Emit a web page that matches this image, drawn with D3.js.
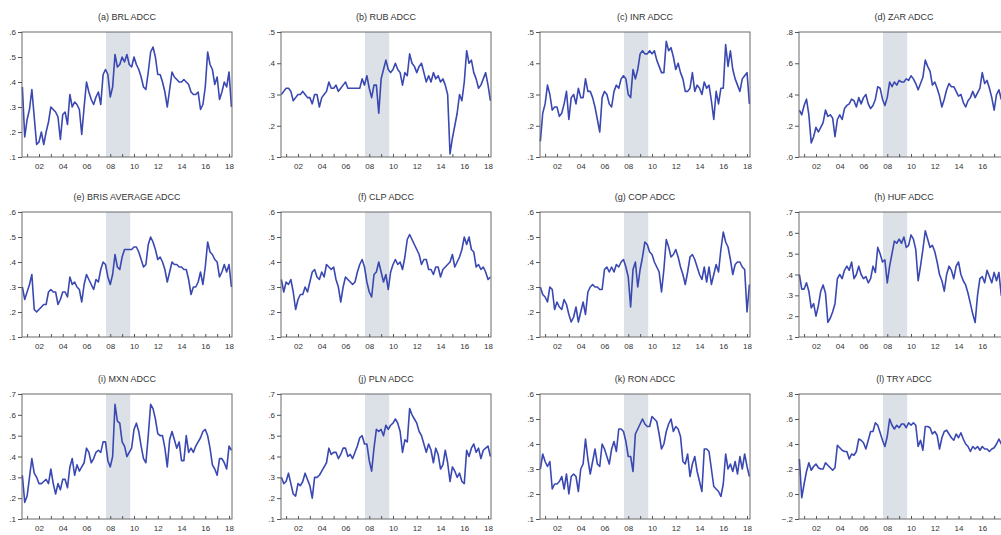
<!DOCTYPE html>
<html>
<head>
<meta charset="utf-8">
<script src="https://cdn.jsdelivr.net/npm/d3@7"></script>
<style>
  body { margin: 0; background: #fff; }
  svg { display: block; }
  text { font-family: Arial, "Liberation Sans", sans-serif; fill: #333; }
</style>
</head>
<body>
<svg width="1001" height="535"></svg>
<script>
// observation dates: every 0.2 year from 2000.6 to 2018.2
var startYear = 2000.6, stepYear = 0.2;

var brl = [.38,.18,
  .25,.29,.37,.26,.15, .16,.20,.15,.20,.24, .30,.29,.28,.26,.17, .27,.28,.23,.35,.30,
  .32,.31,.29,.19,.30, .40,.36,.33,.31,.34, .36,.31,.43,.45,.43, .34,.38,.51,.46,.47,
  .50,.48,.51,.47,.46, .50,.47,.45,.42,.38, .37,.44,.52,.54,.50, .43,.43,.40,.36,.30,
  .37,.44,.42,.41,.40, .40,.41,.40,.39,.36, .35,.35,.36,.29,.31, .38,.52,.47,.45,.39,
  .42,.33,.36,.40,.38, .44,.30];
var rub = [.30,.31,
  .32,.32,.31,.28,.29, .30,.30,.31,.30,.29, .29,.27,.30,.30,.26, .29,.30,.31,.34,.32,
  .32,.33,.31,.32,.33, .34,.32,.32,.32,.32, .32,.32,.35,.33,.36, .32,.29,.33,.33,.24,
  .35,.38,.41,.38,.37, .38,.40,.38,.37,.33, .37,.36,.43,.40,.39, .37,.39,.40,.37,.34,
  .36,.34,.37,.35,.36, .34,.35,.33,.30,.11, .16,.20,.24,.30,.28, .34,.44,.40,.41,.37,
  .35,.32,.33,.35,.37, .33,.28];
var inr = [.15,.24,
  .27,.33,.30,.25,.26, .26,.23,.24,.27,.31, .22,.29,.30,.27,.32, .29,.29,.35,.31,.31,
  .29,.26,.22,.18,.29, .31,.30,.27,.26,.31, .33,.32,.35,.36,.35, .30,.29,.38,.35,.38,
  .43,.44,.43,.43,.44, .43,.44,.41,.39,.37, .37,.47,.44,.45,.42, .38,.40,.37,.35,.31,
  .31,.32,.37,.31,.33, .32,.30,.34,.32,.33, .28,.22,.31,.27,.32, .32,.46,.39,.44,.38,
  .35,.33,.31,.35,.36, .37,.27];
var zar = [.30,.27,
  .33,.37,.27,.09,.13, .19,.16,.19,.22,.30, .26,.27,.25,.13,.24, .27,.24,.31,.33,.34,
  .37,.36,.32,.38,.34, .38,.40,.34,.31,.33, .37,.45,.44,.37,.33, .38,.48,.45,.48,.46,
  .49,.48,.48,.50,.49, .52,.50,.47,.43,.47, .51,.62,.58,.55,.46, .48,.44,.39,.32,.37,
  .43,.47,.45,.45,.42, .39,.40,.35,.32,.36, .38,.42,.38,.41,.44, .54,.47,.49,.44,.38,
  .30,.40,.43,.37,.40, .42,.38];
var bris = [.30,.25,
  .28,.31,.35,.21,.20, .21,.22,.23,.23,.28, .29,.28,.28,.23,.25, .28,.28,.26,.34,.31,
  .32,.30,.29,.24,.31, .35,.33,.31,.29,.33, .32,.37,.40,.39,.34, .31,.35,.43,.38,.37,
  .42,.45,.45,.45,.45, .46,.46,.44,.41,.38, .39,.47,.50,.48,.45, .41,.42,.40,.37,.32,
  .36,.40,.39,.39,.38, .38,.37,.37,.33,.27, .30,.30,.32,.36,.31, .38,.48,.44,.43,.41,
  .40,.34,.36,.39,.36, .39,.30];
var clp = [.33,.28,
  .32,.31,.33,.28,.21, .25,.27,.27,.30,.28, .32,.36,.37,.34,.33, .36,.34,.39,.38,.37,
  .38,.33,.30,.24,.30, .34,.33,.32,.31,.32, .36,.39,.41,.38,.32, .28,.26,.35,.36,.40,
  .36,.32,.35,.29,.36, .39,.41,.39,.40,.37, .42,.49,.51,.49,.47, .45,.43,.39,.41,.41,
  .37,.37,.35,.38,.38, .34,.37,.38,.39,.40, .43,.38,.40,.42,.45, .50,.47,.50,.45,.44,
  .38,.39,.37,.38,.36, .33,.34];
var cop = [.30,.27,
  .26,.24,.30,.29,.21, .24,.22,.21,.25,.23, .19,.16,.18,.22,.16, .20,.24,.19,.28,.30,
  .31,.30,.30,.29,.29, .37,.38,.36,.38,.36, .39,.38,.40,.41,.38, .34,.22,.37,.40,.30,
  .37,.42,.48,.47,.44, .43,.40,.38,.36,.28, .37,.49,.46,.42,.43, .45,.42,.38,.35,.31,
  .36,.42,.43,.41,.38, .35,.33,.38,.32,.38, .31,.35,.39,.36,.45, .52,.48,.46,.41,.35,
  .39,.40,.40,.38,.37, .20,.31];
var huf = [.40,.33,
  .33,.36,.32,.24,.26, .20,.25,.32,.35,.31, .17,.19,.22,.26,.38, .40,.38,.42,.44,.42,
  .46,.38,.40,.44,.40, .38,.39,.36,.38,.44, .41,.53,.50,.46,.47, .36,.44,.50,.56,.55,
  .57,.55,.58,.53,.54, .59,.57,.52,.37,.44, .52,.61,.57,.53,.54, .51,.46,.40,.37,.32,
  .40,.44,.42,.38,.44, .46,.40,.37,.35,.31, .26,.21,.17,.30,.38, .39,.36,.42,.39,.36,
  .41,.37,.41,.30,.36, .40,.35];
var mxn = [.31,.18,
  .21,.30,.39,.32,.30, .27,.27,.28,.29,.27, .34,.27,.22,.27,.24, .29,.29,.25,.35,.39,
  .31,.36,.33,.35,.37, .44,.42,.37,.39,.42, .43,.42,.47,.47,.38, .35,.40,.65,.57,.56,
  .47,.45,.40,.42,.44, .53,.56,.52,.45,.39, .37,.50,.65,.63,.58, .51,.50,.50,.44,.35,
  .48,.52,.48,.44,.47, .38,.38,.50,.42,.44, .42,.45,.47,.49,.52, .53,.50,.44,.36,.34,
  .31,.39,.39,.37,.34, .45,.43];
var pln = [.30,.27,
  .28,.32,.27,.22,.21, .27,.26,.28,.32,.29, .26,.20,.30,.30,.31, .33,.35,.37,.44,.41,
  .42,.42,.39,.41,.44, .44,.40,.41,.39,.42, .45,.49,.50,.46,.46, .38,.33,.44,.53,.52,
  .53,.50,.55,.53,.55, .56,.58,.56,.52,.42, .48,.47,.63,.60,.58, .56,.52,.50,.46,.42,
  .46,.43,.37,.44,.41, .34,.36,.43,.37,.28, .35,.33,.30,.32,.28, .27,.43,.40,.44,.46,
  .42,.44,.39,.43,.44, .45,.40];
var ron = [.30,.36,
  .33,.31,.33,.22,.24, .24,.25,.27,.22,.28, .20,.27,.28,.27,.21, .30,.32,.42,.34,.28,
  .33,.38,.32,.31,.40, .38,.35,.32,.38,.41, .37,.46,.46,.45,.41, .35,.35,.29,.44,.46,
  .48,.50,.48,.47,.47, .51,.50,.49,.44,.38, .40,.45,.48,.50,.45, .47,.46,.43,.33,.32,
  .36,.27,.32,.35,.29, .25,.21,.38,.38,.37, .30,.23,.22,.21,.19, .24,.36,.30,.32,.29,
  .33,.28,.35,.30,.36, .31,.27];
var tryS = [.28,-.03,
  .08,.18,.25,.19,.22, .24,.21,.20,.20,.25, .23,.21,.19,.21,.39, .37,.35,.34,.34,.28,
  .32,.31,.34,.44,.43, .41,.36,.43,.50,.50, .57,.55,.49,.43,.38, .46,.60,.55,.52,.55,
  .53,.56,.56,.53,.57, .55,.57,.55,.38,.43, .35,.54,.54,.53,.48, .50,.47,.36,.45,.50,
  .51,.48,.45,.43,.48, .45,.49,.44,.40,.38, .34,.38,.36,.38,.35, .38,.36,.36,.34,.36,
  .37,.40,.44,.40,.42, .40,.38];

var titles = ["(a) BRL ADCC", "(b) RUB ADCC", "(c) INR ADCC", "(d) ZAR ADCC",
  "(e) BRIS AVERAGE ADCC", "(f) CLP ADCC", "(g) COP ADCC", "(h) HUF ADCC",
  "(i) MXN ADCC", "(j) PLN ADCC", "(k) RON ADCC", "(l) TRY ADCC"];
var seriesList = [brl, rub, inr, zar, bris, clp, cop, huf, mxn, pln, ron, tryS];
var yMins = [.1, .1, .1, 0, .1, .1, .1, .1, .1, .1, .1, -.2];
var yMaxs = [.6, .5, .5, .8, .6, .6, .6, .7, .7, .7, .6, .8];
var ySteps = [.1, .1, .1, .2, .1, .1, .1, .1, .1, .1, .1, .2];

var xDomain = [2000.57, 2018.25];
var crisis = [2007.64, 2009.68];           // shaded period
var tickYears = d3.range(2001, 2019);      // a tick every year
var labelYears = [2002, 2004, 2006, 2008, 2010, 2012, 2014, 2016, 2018];

// layout of the 4 x 3 grid (last column runs past the page edge, as in the source)
var colLefts = [22, 281, 540, 799],
    rowTops = [32, 212, 394],
    pw = 210, ph = 125,
    pageW = 1001;

var svg = d3.select("svg");

var x = d3.scaleLinear().domain(xDomain).range([0, pw]);

var fmtY = function (v) {
  return d3.format(".1f")(v).replace("0.", ".");
};

seriesList.forEach(function (vals, i) {
  var col = i % 4, row = Math.floor(i / 4);
  var left = colLefts[col];
  var g = svg.append("g")
    .attr("transform", "translate(" + left + "," + rowTops[row] + ")");

  var y = d3.scaleLinear().domain([yMins[i], yMaxs[i]]).range([ph, 0]);
  var nT = Math.round((yMaxs[i] - yMins[i]) / ySteps[i]);
  var yTicks = d3.range(nT + 1).map(function (k) { return yMins[i] + k * ySteps[i]; });

  // crisis shading
  g.append("rect")
    .attr("x", x(crisis[0]))
    .attr("y", 0)
    .attr("width", x(crisis[1]) - x(crisis[0]))
    .attr("height", ph)
    .attr("fill", "#dbe1e6");

  var line = d3.line()
    .x(function (d, k) { return x(startYear + k * stepYear); })
    .y(function (d) { return y(d); });

  g.append("path")
    .datum(vals)
    .attr("fill", "none")
    .attr("stroke", "#3a48b2")
    .attr("stroke-width", 1.6)
    .attr("stroke-linejoin", "round")
    .attr("d", line);

  // frame
  g.append("rect")
    .attr("width", pw)
    .attr("height", ph)
    .attr("fill", "none")
    .attr("stroke", "#6a6a6a")
    .attr("stroke-width", 1);

  // y axis
  var ya = g.append("g")
    .call(d3.axisLeft(y).tickValues(yTicks).tickFormat(fmtY).tickSize(4).tickPadding(2));
  ya.select(".domain").remove();
  ya.selectAll("line").attr("stroke", "#555");
  ya.selectAll("text").attr("font-size", 8).attr("fill", "#333")
    .attr("font-family", "Arial, 'Liberation Sans', sans-serif");

  // x axis: labels that would fall off the page are left out, as in the source
  var xa = g.append("g")
    .attr("transform", "translate(0," + ph + ")")
    .call(d3.axisBottom(x).tickValues(tickYears)
      .tickFormat(function (d) {
        if (labelYears.indexOf(d) < 0) return "";
        if (left + x(d) + 6 > pageW) return "";
        return String(d).slice(2);
      })
      .tickSize(-3).tickPadding(6));
  xa.select(".domain").remove();
  xa.selectAll("line").attr("stroke", "#555");
  xa.selectAll("text").attr("font-size", 8).attr("fill", "#333")
    .attr("font-family", "Arial, 'Liberation Sans', sans-serif");

  // title
  g.append("text")
    .attr("x", pw / 2)
    .attr("y", -12)
    .attr("text-anchor", "middle")
    .attr("font-size", 9)
    .text(titles[i]);
});
</script>
</body>
</html>
